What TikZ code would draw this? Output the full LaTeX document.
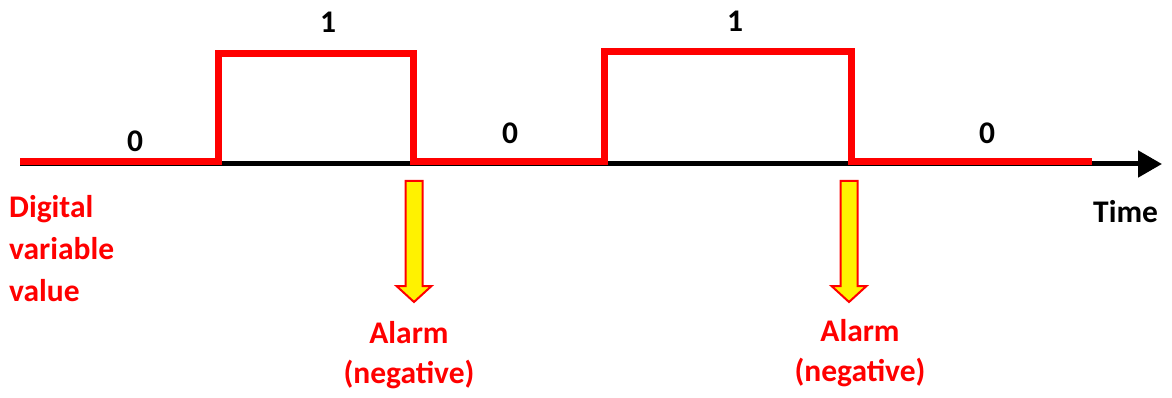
\documentclass[tikz,border=0pt]{standalone}
\usepackage{fontspec}
\setmainfont{Carlito}
\usetikzlibrary{arrows.meta,positioning,calc}

\begin{document}
\begin{tikzpicture}[
    x=1pt, y=-1pt,
    every node/.style={font=\fontsize{31.5}{38}\selectfont\bfseries},
    signal/.style={draw=red, line width=7pt, line join=miter},
    axis/.style={draw=black, line width=5pt, -{Triangle[length=24pt,width=26pt]}},
    alarm/.style={draw=red, line width=2pt, fill=yellow, line join=miter},
    lbl/.style={text=black, inner sep=0pt},
    redlbl/.style={text=red, inner sep=0pt, align=center}
]
    \useasboundingbox (0,0) rectangle (1172,398);

    % Time axis
    \coordinate (start) at (20,164);
    \coordinate (tip) at (1162,164);
    \draw[axis] (start) -- (tip);
    \node[lbl, anchor=west] (time) at (1093,212) {Time};

    % Edges of the signal
    \coordinate (rise1) at (218,54);
    \coordinate (fall1) at (413,54);
    \coordinate (rise2) at (604,52);
    \coordinate (fall2) at (851,52);
    \coordinate (stop) at (1092,162);

    % Signal
    \draw[signal] (20,162) -| (rise1) -- (fall1) |- (rise2 |- 0,162)
        -- (rise2) -- (fall2) |- (stop);

    % Values
    \node[lbl] (low1) at (135,141) {0};
    \node[lbl] (high1) at (328,22) {1};
    \node[lbl] (low2) at (510,133) {0};
    \node[lbl] (high2) at (735,21) {1};
    \node[lbl] (low3) at (987,133) {0};

    \node[redlbl, align=left, anchor=north west, font=\fontsize{31.5}{42}\selectfont\bfseries] (value) at (9,195) {Digital\\variable\\value};

    % Alarms
    \foreach \x/\n in {414/a, 849/b} {
        \draw[alarm] (\x-8.5,181) -- (\x+8.5,181) -- (\x+8.5,286) -- (\x+17.5,286)
            -- (\x,302) -- (\x-17.5,286) -- (\x-8.5,286) -- cycle;
    }
    \node[redlbl, font=\fontsize{31.5}{40}\selectfont\bfseries] (alarm1) at (409,355) {Alarm\\(negative)};
    \node[redlbl, font=\fontsize{31.5}{40}\selectfont\bfseries] (alarm2) at (860,353) {Alarm\\(negative)};
\end{tikzpicture}
\end{document}
